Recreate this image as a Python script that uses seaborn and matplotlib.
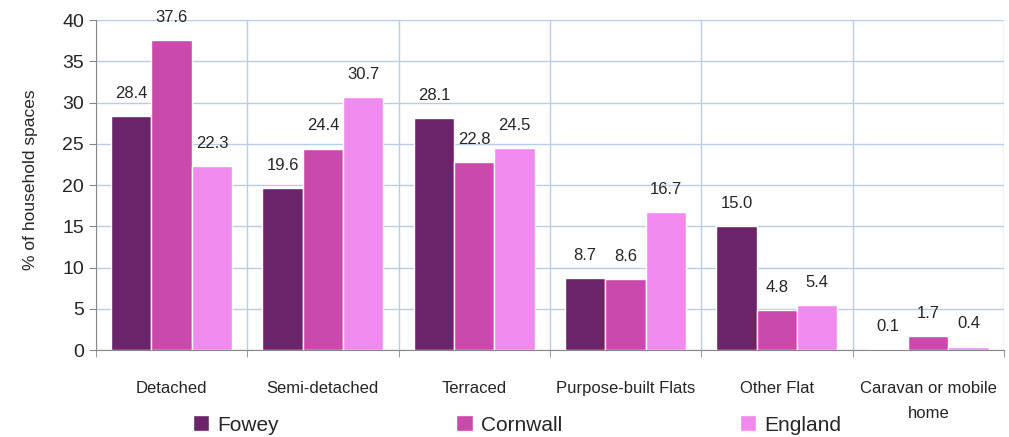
import numpy as np
import pandas as pd
import matplotlib
matplotlib.use("Agg")
import matplotlib.pyplot as plt
import seaborn as sns

categories = ["Detached", "Semi-detached", "Terraced", "Purpose-built Flats",
              "Other Flat", "Caravan or mobile\nhome"]
fowey = [28.4, 19.6, 28.1, 8.7, 15.0, 0.1]
cornwall = [37.6, 24.4, 22.8, 8.6, 4.8, 1.7]
england = [22.3, 30.7, 24.5, 16.7, 5.4, 0.4]
series = ["Fowey", "Cornwall", "England"]
colors = ["#6b2369", "#c94aaa", "#f08bee"]

df = pd.DataFrame({
    "category": categories * 3,
    "area": [s for s in series for _ in categories],
    "value": fowey + cornwall + england,
})

sns.set_style("white")
plt.rcParams["font.family"] = ["Liberation Sans", "DejaVu Sans"]

fig = plt.figure(figsize=(10.09, 4.37), dpi=100)
ax = fig.add_axes([0.095, 0.199, 0.9, 0.755])

sns.barplot(data=df, x="category", y="value", hue="area", palette=colors,
            width=0.8, saturation=1, ax=ax, legend=True)

for cont in ax.containers:
    ax.bar_label(cont, fmt="%.1f", padding=11, fontsize=12)

ax.set_ylim(0, 40)
ax.set_xlim(-0.5, len(categories) - 0.5)
ax.set_yticks(range(0, 41, 5))
ax.set_xticks(np.arange(-0.5, len(categories), 1.0), minor=True)
ax.grid(axis="y", color="#b9cde5", lw=1)
ax.grid(axis="x", which="minor", color="#b9cde5", lw=1)
ax.set_axisbelow(True)
ax.tick_params(axis="y", labelsize=14, length=5, color="#888888", left=True)
ax.tick_params(axis="x", which="major", labelsize=12, length=0, pad=22)
ax.tick_params(axis="x", which="minor", length=5, color="#888888", bottom=True)
for lbl in ax.get_xticklabels():
    lbl.set_linespacing(1.9)
    lbl.set_verticalalignment("top")
ax.set_xlabel("")
ax.set_ylabel("% of household spaces", fontsize=12.5)
ax.yaxis.set_label_coords(-0.064, 0.515)
for side in ["top", "right"]:
    ax.spines[side].set_visible(False)
for side in ["left", "bottom"]:
    ax.spines[side].set_color("#888888")

ax.legend(title=None, loc="center", bbox_to_anchor=(0.464, -0.227),
          ncol=3, frameon=False, fontsize=15, columnspacing=8.5,
          handlelength=0.8, handleheight=0.8, handletextpad=0.4)

fig.savefig("out.png", dpi=100)
